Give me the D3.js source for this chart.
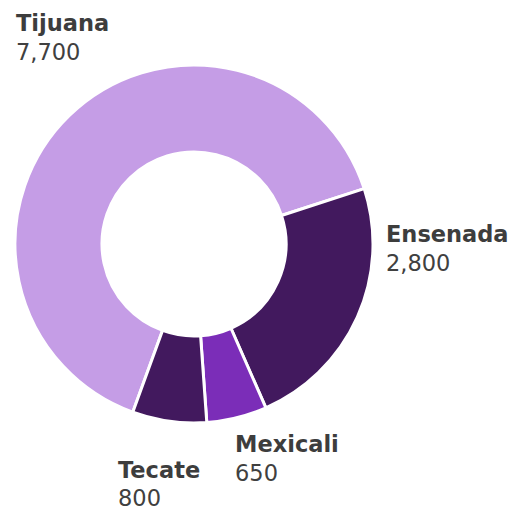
<!DOCTYPE html>
<html>
<head>
<meta charset="utf-8">
<script src="https://cdn.jsdelivr.net/npm/d3@7"></script>
<style>
  html, body { margin: 0; padding: 0; background: #fff; }
  .name { font-family: "DejaVu Sans", sans-serif; font-weight: bold; font-size: 22.5px; fill: #3d3d3d; }
  .value { font-family: "DejaVu Sans", sans-serif; font-size: 22.5px; fill: #404040; }
</style>
</head>
<body>
<svg id="chart" width="513" height="512"></svg>
<script>
const cities = ["Tijuana", "Ensenada", "Mexicali", "Tecate"]
const totals = [7700, 2800, 650, 800]
const colors = ["#c59de6", "#42195e", "#7b2db8", "#42195e"]

// label anchors (baseline of the name line)
const labelPos = {
  Tijuana: [16, 31],
  Ensenada: [386, 242],
  Mexicali: [235, 452],
  Tecate: [118, 478]
}

const svg = d3.select("#chart")
const cx = 194, cy = 244, R = 179, r = 92
const start = 200 * Math.PI / 180

const pie = d3.pie().sort(null).value((d) => d.v)
  .startAngle(start).endAngle(start + 2 * Math.PI)
const arc = d3.arc().innerRadius(r).outerRadius(R)
const color = d3.scaleOrdinal().domain(cities).range(colors)

const data = cities.map((c, i) => ({ name: c, v: totals[i] }))
const arcs = pie(data)

const g = svg.append("g").attr("transform", `translate(${cx},${cy})`)
g.selectAll("path").data(arcs).enter().append("path")
  .attr("d", arc)
  .attr("fill", (d) => color(d.data.name))
  .attr("stroke", "#fff")
  .attr("stroke-width", 3)
  .attr("stroke-linejoin", "round")

const fmt = d3.format(",")
const lab = svg.selectAll("g.lab").data(arcs).enter().append("g")
  .attr("class", "lab")
  .attr("transform", (d) => `translate(${labelPos[d.data.name][0]},${labelPos[d.data.name][1]})`)
lab.append("text").attr("class", "name").text((d) => d.data.name)
lab.append("text").attr("class", "value").attr("y", (d) => d.data.name === "Tecate" ? 28 : 29)
  .text((d) => fmt(d.data.v))
</script>
</body>
</html>
